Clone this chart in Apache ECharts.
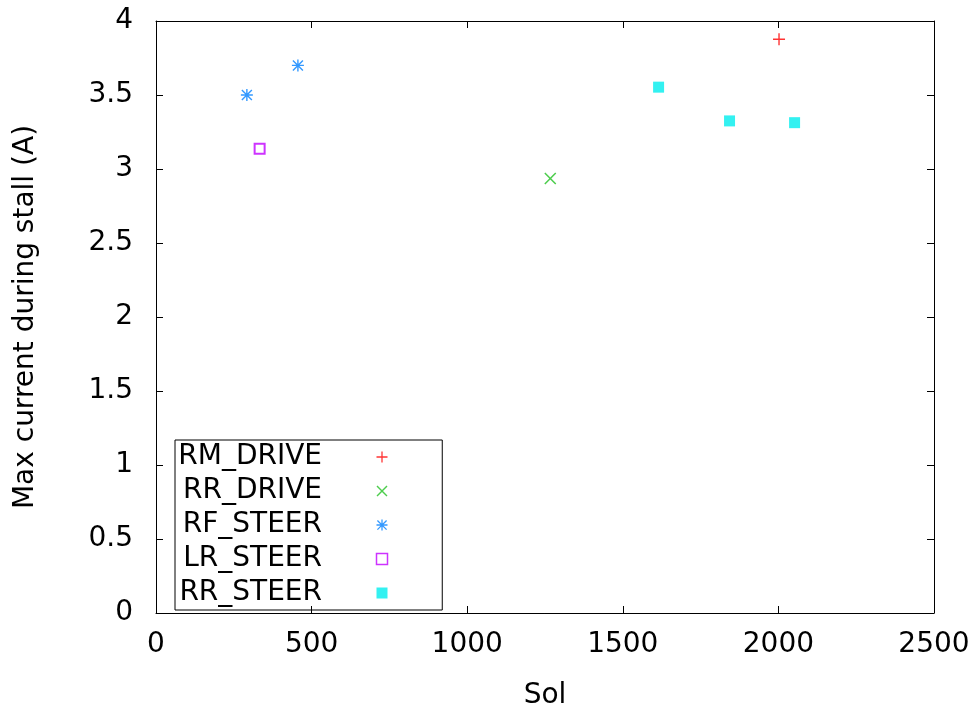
<!DOCTYPE html>
<html>
<head>
<meta charset="utf-8">
<script src="https://cdn.jsdelivr.net/npm/echarts@6/dist/echarts.min.js"></script>
<style>
  html, body { margin: 0; padding: 0; background: #fff; }
  #chart { width: 976px; height: 715px; }
</style>
</head>
<body>
<div id="chart"></div>
<script>
// values: [Sol, max current (A)]
const rmDrive = [[2002, 3.877]]
const rrDrive = [[1267, 2.936]]
const rfSteer = [[292, 3.50], [456, 3.70]]
const lrSteer = [[333, 3.136]]
const rrSteer = [[1615, 3.553], [1843, 3.325], [2052, 3.313]]

const seriesNames = ['RM_DRIVE', 'RR_DRIVE', 'RF_STEER', 'LR_STEER', 'RR_STEER']

const FONT = 'DejaVu Sans'

// gnuplot-like point shapes, built as filled polygons
const plusPath = 'path://M-0.7,-6L0.7,-6L0.7,6L-0.7,6Z M-6,-0.7L6,-0.7L6,0.7L-6,0.7Z'
const crossPath = 'path://M-4.5,-5.5L5.5,4.5L4.5,5.5L-5.5,-4.5Z M-5.5,4.5L4.5,-5.5L5.5,-4.5L-4.5,5.5Z'
const starPath = 'path://M-0.7,-6L0.7,-6L0.7,6L-0.7,6Z M-6,-0.7L6,-0.7L6,0.7L-6,0.7Z ' +
  'M-4.5,-5.5L5.5,4.5L4.5,5.5L-5.5,-4.5Z M-5.5,4.5L4.5,-5.5L5.5,-4.5L-4.5,5.5Z'
const squarePath = 'path://M0,0L10,0L10,10L0,10Z'

const chart = echarts.init(document.getElementById('chart'))

const axisCommon = {
  axisLine: { show: true, onZero: false, lineStyle: { color: '#000', width: 1 } },
  axisTick: { show: true, inside: true, length: 7, lineStyle: { color: '#000' } },
  splitLine: { show: false },
}

chart.setOption({
  animation: false,
  backgroundColor: '#fff',
  textStyle: { fontFamily: FONT },
  grid: { left: 156, right: 42, top: 21, bottom: 100 },
  legend: {
    data: seriesNames.map((name) =>
      name === 'LR_STEER' ? { name, itemStyle: { borderWidth: 1.5 } } : { name }
    ),
    orient: 'vertical',
    left: 175,
    top: 440,
    align: 'right',
    itemWidth: 110,
    itemHeight: 11,
    itemGap: 0,
    padding: [0, 54, 0, 0],
    borderColor: '#000',
    borderWidth: 1,
    selectedMode: false,
    textStyle: {
      fontFamily: FONT,
      fontSize: 28,
      color: '#000',
      width: 147,
      align: 'right',
      lineHeight: 34,
    },
  },
  xAxis: [
    {
      ...axisCommon,
      type: 'value',
      min: 0,
      max: 2500,
      interval: 500,
      name: 'Sol',
      nameLocation: 'middle',
      nameGap: 69,
      nameTextStyle: { fontFamily: FONT, fontSize: 28, color: '#000' },
      axisLabel: { fontFamily: FONT, fontSize: 28, color: '#000', margin: 18, formatter: (v) => String(v) },
    },
    {
      ...axisCommon,
      type: 'value',
      position: 'top',
      min: 0,
      max: 2500,
      interval: 500,
      axisLabel: { show: false },
    },
  ],
  yAxis: [
    {
      ...axisCommon,
      type: 'value',
      min: 0,
      max: 4,
      interval: 0.5,
      name: 'Max current during stall (A)',
      nameLocation: 'middle',
      nameGap: 116,
      nameTextStyle: { fontFamily: FONT, fontSize: 28, color: '#000' },
      axisLabel: { fontFamily: FONT, fontSize: 28, color: '#000', margin: 23, formatter: (v) => String(v) },
    },
    {
      ...axisCommon,
      type: 'value',
      position: 'right',
      min: 0,
      max: 4,
      interval: 0.5,
      axisLabel: { show: false },
    },
  ],
  series: [
    {
      name: 'RM_DRIVE',
      type: 'scatter',
      data: rmDrive,
      symbol: plusPath,
      symbolSize: 12,
      itemStyle: { color: '#ff0000' },
    },
    {
      name: 'RR_DRIVE',
      type: 'scatter',
      data: rrDrive,
      symbol: crossPath,
      symbolSize: 12,
      itemStyle: { color: '#20c020' },
    },
    {
      name: 'RF_STEER',
      type: 'scatter',
      data: rfSteer,
      symbol: starPath,
      symbolSize: 12,
      itemStyle: { color: '#0080ff' },
    },
    {
      name: 'LR_STEER',
      type: 'scatter',
      data: lrSteer,
      symbol: squarePath,
      symbolSize: 10,
      itemStyle: { color: 'rgba(255,255,255,0)', borderColor: '#c000ff', borderWidth: 2 },
    },
    {
      name: 'RR_STEER',
      type: 'scatter',
      data: rrSteer,
      symbol: squarePath,
      symbolSize: 11,
      itemStyle: { color: '#00eeee' },
    },
  ],
})
</script>
</body>
</html>
